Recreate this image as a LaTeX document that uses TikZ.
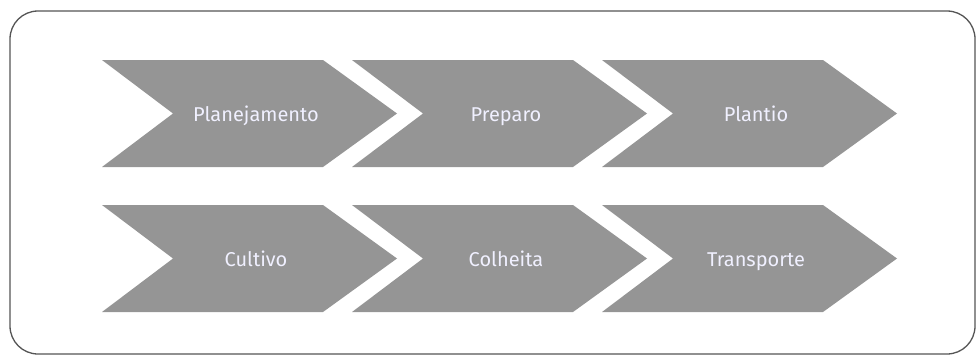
\documentclass[tikz,border=0pt]{standalone}
\usepackage{fontspec}
\setsansfont{Fira Sans}
\usetikzlibrary{positioning}
\definecolor{chevgray}{HTML}{959595}
\definecolor{framegray}{HTML}{555555}

\begin{document}
\begin{tikzpicture}
    [
      x=1pt,y=-1pt,
      frame/.style={draw=framegray,line width=1.3pt,rounded corners=28pt},
      chevron/.style={fill=chevgray},
      steplabel/.style={anchor=base,text=white!94!blue,font=\sffamily\fontsize{20}{22}\selectfont},
    ]

    \useasboundingbox (0,0) rectangle (979,356);

    \draw [frame] (10,11) rectangle (975,354);

    % left edge, top edge of each chevron, and its label
    \foreach \x/\y/\name/\txt in {102/60/plan/Planejamento, 352/60/prep/Preparo, 602/60/plant/Plantio,
                                  102/205/cult/Cultivo, 352/205/colh/Colheita, 602/205/transp/Transporte}
    {
      \fill [chevron] (\x,\y) -- ++(221,0) -- ++(74,53.5) -- ++(-74,53.5) -- ++(-221,0)
                      -- ++(71,-53.5) -- cycle;
      \node (\name) [steplabel] at (\x+154,\y+61) {\txt};
    }

  \end{tikzpicture}
\end{document}
